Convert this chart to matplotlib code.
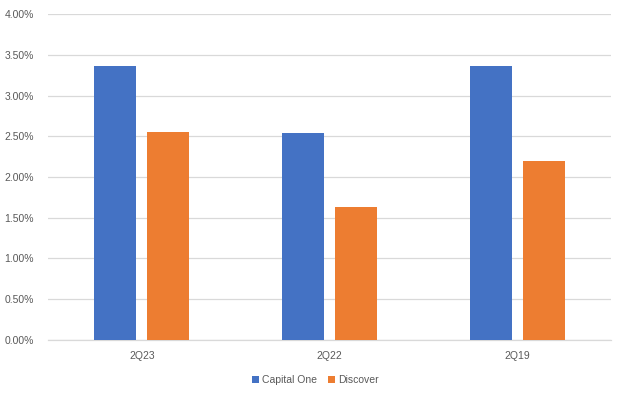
import numpy as np
import matplotlib.pyplot as plt
from matplotlib.ticker import FuncFormatter

quarters = ["2Q23", "2Q22", "2Q19"]
capital_one = [3.36, 2.54, 3.36]
discover = [2.55, 1.63, 2.195]

plt.rcParams["font.family"] = ["Liberation Sans", "DejaVu Sans"]
grey = "#595959"

fig = plt.figure(figsize=(6.24, 3.98), dpi=100)
ax = fig.add_axes([48 / 624, 1 - 339.5 / 398, 563 / 624, 325 / 398])

x = np.arange(len(quarters))
w = 0.224
off = 0.141
ax.bar(x - off, capital_one, w, color="#4472C4", label="Capital One", zorder=3)
ax.bar(x + off, discover, w, color="#ED7D31", label="Discover", zorder=3)

ax.set_xlim(-0.5, len(quarters) - 0.5)
ax.set_ylim(0, 4)
ax.set_yticks(np.arange(0, 4.01, 0.5))
ax.yaxis.set_major_formatter(FuncFormatter(lambda v, p: f"{v:.2f}%"))
ax.set_xticks(x)
ax.set_xticklabels(quarters)
ax.grid(axis="y", color="#D9D9D9", linewidth=0.9, zorder=0)
for s in ["top", "right", "left"]:
    ax.spines[s].set_visible(False)
ax.spines["bottom"].set_color("#D9D9D9")
ax.spines["bottom"].set_linewidth(0.9)
ax.tick_params(length=0, colors=grey, labelsize=7.5)
ax.tick_params(axis="y", pad=10)
ax.tick_params(axis="x", pad=8)

ax.legend(loc="upper center", bbox_to_anchor=(0.475, -0.08), ncol=2, frameon=False,
          fontsize=7.5, labelcolor=grey, handlelength=0.7, handleheight=0.7,
          handletextpad=0.3, columnspacing=1.0)

plt.savefig("out.png", dpi=100)
